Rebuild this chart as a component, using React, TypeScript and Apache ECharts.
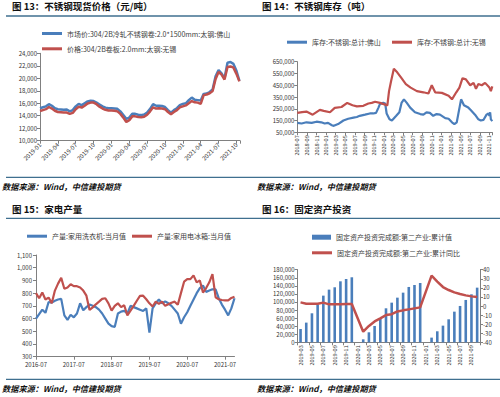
import React, { useEffect, useRef } from 'react';
import * as echarts from 'echarts';

const FONT = '"Noto Sans CJK SC", "Noto Sans", sans-serif';
const BLUE = '#4a7ebb';
const RED = '#c0504d';
const SEP = '#3f6f8f';

// ---------- Panel 13: stainless spot price ----------
const p1Start: [number, number] = [2019, 1];
const p1Names = ['市场价:304/2B冷轧不锈钢卷:2.0*1500mm:太钢:佛山', '价格:304/2B卷板:2.0mm:太钢:无锡'];
const p1T = [0,0.5,1,1.5,2,2.5,3,3.5,4,4.5,5,5.5,6,6.5,7,7.5,8,8.5,9,9.5,10,10.5,11,11.5,12,12.5,13,13.5,14,14.5,15,15.5,16,16.5,17,17.5,18,18.5,19,19.5,20,20.5,21,21.5,22,22.5,23,23.5,24,24.5,25,25.5,26,26.5,27,27.5,28,28.5,29,29.5,30,30.5,31,31.5,32,32.5,33,33.5];
const p1Foshan = [15200,15350,15500,15850,15600,15200,15050,15000,14950,15000,14700,14900,15500,15900,15700,16000,16300,16400,16350,16100,15800,15500,15300,15200,15200,15150,15100,14700,14100,13500,13700,14300,14300,14150,14100,14200,14500,15100,15850,15600,15600,15550,15400,14900,14500,14900,15200,15700,15900,16000,16500,16900,16550,16500,16450,17500,17550,17800,18200,20300,21300,20800,20000,22500,22600,22300,21200,19600];
const p1Wuxi = [14750,14900,15050,15400,15150,14800,14600,14550,14500,14500,14300,14450,15050,15450,15300,15600,15950,16100,16100,15850,15450,15150,14950,14850,14850,14800,14700,14300,13700,13000,13300,13900,13900,13800,13750,13850,14150,14700,15350,15150,15200,15150,15050,14600,14250,14600,14900,15350,15500,15650,16000,16350,16150,16100,15900,17300,17400,17600,17950,19900,21000,20600,19800,21800,21900,21700,20700,19500];

// ---------- Panel 14: stainless inventory ----------
const p2Start: [number, number] = [2018, 7];
const p2Names = ['库存:不锈钢:总计:佛山', '库存:不锈钢:总计:无锡'];
const p2FoshanT = [0,0.9,1.9,3,4,5,5.7,6.4,7.2,7.6,8.5,9.6,10.6,11.7,12.4,13,14.1,15.1,15.8,16.4,16.9,17.2,17.9,18.3,18.6,19.2,19.7,20.6,21.25,21.7,22.2,22.8,23.5,24.5,25.6,26.25,26.9,27.6,28.3,29,29.7,30.8,31.5,32.2,32.7,33.2,33.5,34.1,34.7,35.6,36.1,37,37.7,38.2,38.75,39.4,39.8,40,40.15,40.3,40.6];
const p2Foshan = [130000,125000,135000,130000,140000,135000,125000,130000,110000,105000,120000,150000,165000,175000,180000,190000,200000,210000,210000,215000,260000,290000,300000,295000,210000,160000,150000,190000,220000,300000,330000,300000,260000,220000,205000,200000,220000,215000,190000,205000,200000,170000,165000,135000,120000,135000,200000,330000,280000,260000,240000,200000,160000,150000,155000,200000,210000,190000,220000,160000,145000];
const p2WuxiT = [0,1,1.9,3.2,4.7,5.5,6.8,7.8,9.2,10.4,11.5,12.4,13.75,14.8,15.5,16.2,17.2,18.3,18.75,19.1,19.5,20.1,20.8,21.7,22.6,23.6,24.9,26.25,27.3,28,28.7,30.1,31.5,32.2,33.1,33.75,34.4,35.1,36,36.7,37.2,37.7,38.4,39.1,40,40.3,40.6];
const p2Wuxi = [215000,222000,226000,200000,240000,232000,220000,258000,265000,300000,280000,270000,275000,295000,300000,310000,300000,285000,278000,400000,480000,590000,560000,510000,460000,430000,400000,390000,380000,450000,390000,385000,360000,330000,390000,430000,510000,500000,450000,470000,420000,460000,450000,470000,430000,400000,440000];

// ---------- Panel 15: appliance output ----------
const p3Start: [number, number] = [2016, 7];
const p3Names = ['产量:家用洗衣机:当月值', '产量:家用电冰箱:当月值'];
const p3Washer = [600,635,670,645,730,725,740,750,755,625,590,630,610,640,720,665,690,710,700,690,670,640,600,560,540,535,640,655,660,640,700,690,680,670,660,680,490,680,720,750,720,735,720,700,670,640,560,610,650,700,750,800,840,860,810,820,830,830,760,710,670,625,680,760];
const p3Fridge = [800,760,805,750,765,720,820,875,920,835,845,870,855,855,845,820,780,668,688,712,733,755,760,720,662,700,720,690,705,625,662,700,740,778,780,752,720,695,733,715,733,700,712,725,733,708,800,890,910,910,940,885,900,805,840,885,950,768,752,746,743,743,762,772];

// ---------- Panel 16: fixed asset investment ----------
const p4Start: [number, number] = [2019, 3];
const p4Names = ['固定资产投资完成额:第二产业:累计值', '固定资产投资完成额:第二产业:累计同比'];
const p4Value = [33000,48800,71900,94000,115700,130600,136400,151200,157000,161200,null,7400,24800,40500,57900,84300,98300,110700,123100,137200,142100,147100,null,11600,27300,41300,57000,76000,90100,105000,119000,135500];
const p4Yoy = [4.0,2.5,2.5,2.5,3.7,1.8,1.8,2.0,2.2,2.2,null,-28.3,-22,-17,-13.6,-10,-9,-6,-4.8,-3.7,-2.6,-1.5,null,33.4,26.8,20.9,17.6,15,13.2,11.7,10.6,9.9];

const ym = (start: [number, number], idx: number) => {
  const tot = start[0] * 12 + (start[1] - 1) + idx;
  return `${Math.floor(tot / 12)}-${String((tot % 12) + 1).padStart(2, '0')}`;
};
const monthCats = (start: [number, number], n: number) => Array.from({ length: n }, (_, i) => ym(start, i));
const monthFmt = (start: [number, number]) => (v: number) => {
  const r = Math.round(v);
  if (Math.abs(v - r) > 1e-6) return '';
  return ym(start, r);
};
const comma = (v: number) => v.toLocaleString('en-US');

const axisLine = { show: true, lineStyle: { color: '#808080', width: 1 } };
const axisTick = { show: true, length: 3, lineStyle: { color: '#808080' } };
const lbl = { fontSize: 6, color: '#333', fontFamily: FONT };

const legendBase = {
  padding: 0,
  itemWidth: 20,
  itemHeight: 3,
  icon: 'rect',
  textStyle: { fontSize: 7, color: '#404040', fontFamily: FONT },
  selectedMode: false,
};

export default function App() {
  const ref = useRef<HTMLDivElement>(null);
  useEffect(() => {
    const chart = echarts.init(ref.current!, null, { renderer: 'svg' });
    const title = (text: string, x: number, y: number) => ({
      type: 'text', left: x, top: y - 6,
      style: { text, fontSize: 9.5, fontWeight: 'bold', fill: '#111', fontFamily: FONT },
    });
    const source = (x: number, y: number) => ({
      type: 'text', left: x, top: y - 5,
      style: { text: '数据来源：Wind，中信建投期货', fontSize: 8.2, fontWeight: 'bold', fontStyle: 'italic', fill: '#111', fontFamily: FONT },
    });
    const hline = (y: number) => ({
      type: 'line', shape: { x1: 6, y1: y, x2: 500, y2: y },
      style: { stroke: SEP, lineWidth: 1.3 },
    });

    const option: any = {
      animation: false,
      backgroundColor: '#fff',
      textStyle: { fontFamily: FONT },
      graphic: [
        title('图 13：不锈钢现货价格（元/吨）', 12, 7.5),
        title('图 14：不锈钢库存（吨）', 262, 7.5),
        title('图 15：家电产量', 12, 210),
        title('图 16：固定资产投资', 262, 210),
        hline(16), hline(177.3), hline(218.3), hline(379.3),
        source(2, 186.7), source(257, 186.7), source(2, 388.7), source(257, 388.7),
      ],
      legend: [
        { ...legendBase, data: [p1Names[0]], left: 42, top: 30 },
        { ...legendBase, data: [p1Names[1]], left: 42, top: 45.3 },
        { ...legendBase, data: [p2Names[0]], left: 287, top: 38.7 },
        { ...legendBase, data: [p2Names[1]], left: 392, top: 38.7 },
        { ...legendBase, data: [p3Names[0]], left: 27, top: 232.7 },
        { ...legendBase, data: [p3Names[1]], left: 132, top: 232.7 },
        { ...legendBase, data: [p4Names[0]], left: 312, top: 233.7, itemWidth: 19, itemHeight: 5 },
        { ...legendBase, data: [p4Names[1]], left: 312, top: 249.3 },
      ],
      grid: [
        { left: 40, top: 53.3, width: 200, height: 87.4 },
        { left: 297.3, top: 61.7, width: 195, height: 70.6 },
        { left: 36, top: 255, width: 198.5, height: 101.7 },
        { left: 297.7, top: 269.7, width: 182.3, height: 72.6 },
      ],
      xAxis: [
        {
          gridIndex: 0, type: 'value', min: 0, max: 33.6, interval: 3,
          axisLine, axisTick, splitLine: { show: false },
          axisLabel: { ...lbl, rotate: 45, margin: 3, formatter: monthFmt(p1Start) },
        },
        {
          gridIndex: 1, type: 'value', min: 0, max: 40.6, interval: 2,
          axisLine, axisTick, splitLine: { show: false },
          axisLabel: { ...lbl, fontSize: 5.5, rotate: 90, margin: 3, formatter: monthFmt(p2Start) },
        },
        {
          gridIndex: 2, type: 'category', boundaryGap: false, data: monthCats(p3Start, p3Fridge.length),
          axisLine, axisTick: { ...axisTick, interval: 11 },
          axisLabel: { ...lbl, interval: 11, margin: 5 },
        },
        {
          gridIndex: 3, type: 'category', data: monthCats(p4Start, p4Value.length),
          axisLine, axisTick: { ...axisTick, interval: 1 },
          axisLabel: { ...lbl, fontSize: 5.5, rotate: 90, interval: 1, margin: 3 },
        },
      ],
      yAxis: [
        {
          gridIndex: 0, type: 'value', min: 10000, max: 24000, interval: 2000,
          axisLine, axisTick, splitLine: { show: false },
          axisLabel: { ...lbl, margin: 3, formatter: comma },
        },
        {
          gridIndex: 1, type: 'value', min: 50000, max: 650000, interval: 100000,
          axisLine, axisTick, splitLine: { show: false },
          axisLabel: { ...lbl, margin: 3, formatter: comma },
        },
        {
          gridIndex: 2, type: 'value', min: 300, max: 1100, interval: 100,
          axisLine, axisTick, splitLine: { show: false },
          axisLabel: { ...lbl, margin: 4, formatter: comma },
        },
        {
          gridIndex: 3, type: 'value', min: 0, max: 180000, interval: 20000,
          axisLine, axisTick, splitLine: { show: false },
          axisLabel: { ...lbl, margin: 3, formatter: comma },
        },
        {
          gridIndex: 3, type: 'value', position: 'right', min: -40, max: 40, interval: 10,
          axisLine, axisTick, splitLine: { show: false },
          axisLabel: { ...lbl, margin: 3 },
        },
      ],
      series: [
        {
          name: p1Names[0], type: 'line', xAxisIndex: 0, yAxisIndex: 0, symbol: 'none', color: BLUE,
          lineStyle: { width: 2.5 }, data: p1T.map((t, i) => [t, p1Foshan[i]]),
        },
        {
          name: p1Names[1], type: 'line', xAxisIndex: 0, yAxisIndex: 0, symbol: 'none', color: RED,
          lineStyle: { width: 2.5 }, data: p1T.map((t, i) => [t, p1Wuxi[i]]),
        },
        {
          name: p2Names[0], type: 'line', xAxisIndex: 1, yAxisIndex: 1, symbol: 'none', color: BLUE,
          lineStyle: { width: 2.2 }, data: p2FoshanT.map((t, i) => [t, p2Foshan[i]]),
        },
        {
          name: p2Names[1], type: 'line', xAxisIndex: 1, yAxisIndex: 1, symbol: 'none', color: RED,
          lineStyle: { width: 2.2 }, data: p2WuxiT.map((t, i) => [t, p2Wuxi[i]]),
        },
        {
          name: p3Names[0], type: 'line', xAxisIndex: 2, yAxisIndex: 2, symbol: 'none', color: BLUE,
          lineStyle: { width: 2.2 }, data: p3Washer,
        },
        {
          name: p3Names[1], type: 'line', xAxisIndex: 2, yAxisIndex: 2, symbol: 'none', color: RED,
          lineStyle: { width: 2.2 }, data: p3Fridge,
        },
        {
          name: p4Names[0], type: 'bar', xAxisIndex: 3, yAxisIndex: 3, color: BLUE,
          barWidth: 2.6, data: p4Value,
        },
        {
          name: p4Names[1], type: 'line', xAxisIndex: 3, yAxisIndex: 4, symbol: 'none', color: RED,
          connectNulls: true, lineStyle: { width: 2.5 }, data: p4Yoy,
        },
      ],
    };
    chart.setOption(option);
    return () => chart.dispose();
  }, []);
  return <div ref={ref} style={{ position: 'fixed', left: 0, top: 0, width: 500, height: 397, background: '#fff' }} />;
}
